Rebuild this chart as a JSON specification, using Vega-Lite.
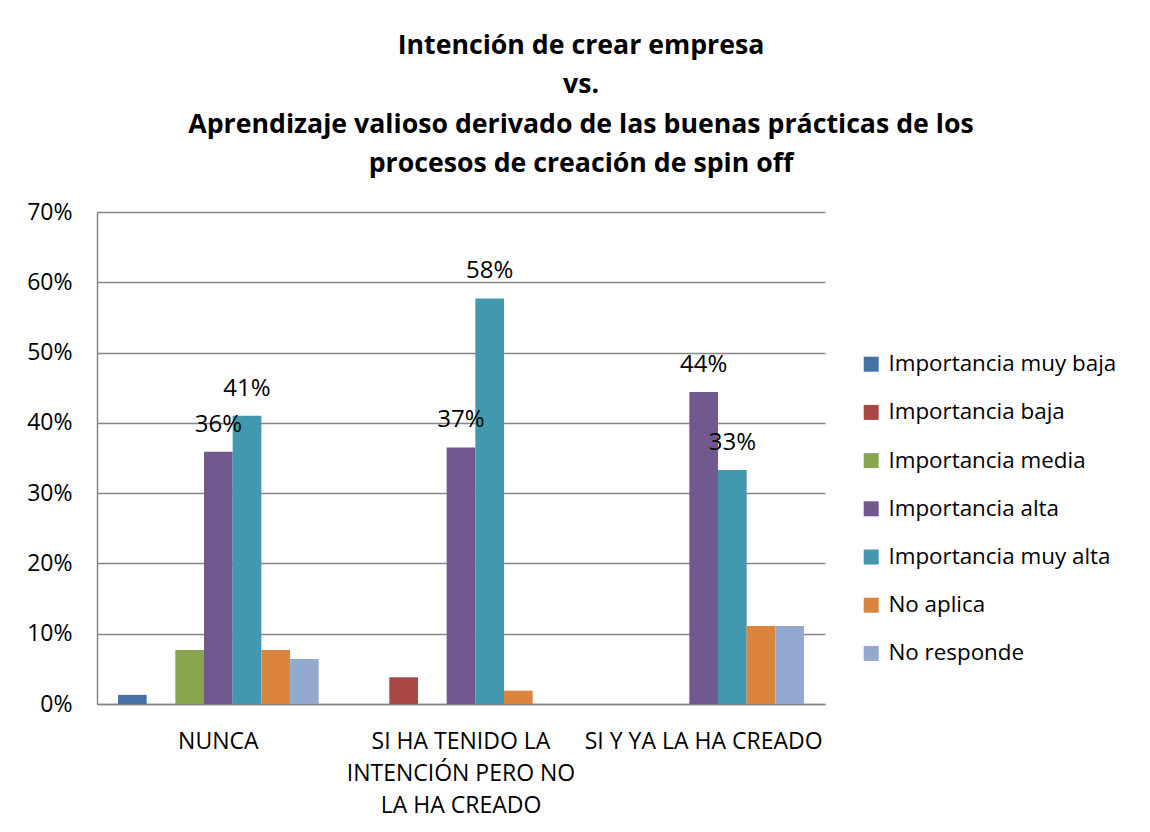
{
  "$schema": "https://vega.github.io/schema/vega-lite/v6.json",
  "autosize": {"type": "none"},
  "width": 728,
  "height": 492,
  "padding": {"left": 97, "top": 212, "right": 325, "bottom": 128},
  "background": "white",
  "config": {
    "font": "Open Sans",
    "view": {"stroke": null}
  },
  "title": {
    "text": ["Intención de crear empresa", "vs.", "Aprendizaje valioso derivado de las buenas prácticas de los", "procesos de creación de spin off"],
    "fontSize": 26.7,
    "fontWeight": "bold",
    "color": "#000000",
    "lineHeight": 39.5,
    "anchor": "middle",
    "frame": "group",
    "dx": 120,
    "offset": 23
  },
  "data": {
    "values": [
      {"cat": "NUNCA", "serie": "Importancia muy baja", "value": 0.013},
      {"cat": "NUNCA", "serie": "Importancia media", "value": 0.077},
      {"cat": "NUNCA", "serie": "Importancia alta", "value": 0.359},
      {"cat": "NUNCA", "serie": "Importancia muy alta", "value": 0.41},
      {"cat": "NUNCA", "serie": "No aplica", "value": 0.077},
      {"cat": "NUNCA", "serie": "No responde", "value": 0.064},
      {"cat": "SI HA TENIDO LA INTENCIÓN PERO NO LA HA CREADO", "serie": "Importancia baja", "value": 0.038},
      {"cat": "SI HA TENIDO LA INTENCIÓN PERO NO LA HA CREADO", "serie": "Importancia alta", "value": 0.365},
      {"cat": "SI HA TENIDO LA INTENCIÓN PERO NO LA HA CREADO", "serie": "Importancia muy alta", "value": 0.577},
      {"cat": "SI HA TENIDO LA INTENCIÓN PERO NO LA HA CREADO", "serie": "No aplica", "value": 0.019},
      {"cat": "SI Y YA LA HA CREADO", "serie": "Importancia alta", "value": 0.444},
      {"cat": "SI Y YA LA HA CREADO", "serie": "Importancia muy alta", "value": 0.333},
      {"cat": "SI Y YA LA HA CREADO", "serie": "No aplica", "value": 0.111},
      {"cat": "SI Y YA LA HA CREADO", "serie": "No responde", "value": 0.111}
    ]
  },
  "encoding": {
    "x": {
      "field": "cat",
      "type": "nominal",
      "sort": null,
      "scale": {"paddingInner": 0.173, "paddingOuter": 0.0865},
      "axis": {
        "title": null,
        "labelAngle": 0,
        "labelFontSize": 23,
        "labelColor": "#000000",
        "labelLineHeight": 32,
        "labelPadding": 37,
        "labelBaseline": "middle",
        "labelLimit": 400,
        "ticks": false,
        "domainColor": "#868686",
        "domainWidth": 1.5,
        "labelExpr": "datum.label == 'SI HA TENIDO LA INTENCIÓN PERO NO LA HA CREADO' ? ['SI HA TENIDO LA', 'INTENCIÓN PERO NO', 'LA HA CREADO'] : datum.label"
      }
    },
    "xOffset": {
      "field": "serie",
      "type": "nominal",
      "scale": {
        "domain": ["Importancia muy baja", "Importancia baja", "Importancia media", "Importancia alta", "Importancia muy alta", "No aplica", "No responde"],
        "paddingInner": 0,
        "paddingOuter": 0
      }
    },
    "y": {
      "field": "value",
      "type": "quantitative",
      "scale": {"domain": [0, 0.7]},
      "axis": {
        "title": null,
        "format": ".0%",
        "values": [0, 0.1, 0.2, 0.3, 0.4, 0.5, 0.6, 0.7],
        "labelFontSize": 23,
        "labelColor": "#000000",
        "labelPadding": 25,
        "ticks": false,
        "grid": true,
        "gridColor": "#868686",
        "gridWidth": 1.5,
        "domainColor": "#868686",
        "domainWidth": 1.5
      }
    }
  },
  "layer": [
    {
      "mark": {"type": "bar"},
      "encoding": {
        "color": {
          "field": "serie",
          "type": "nominal",
          "scale": {
            "domain": ["Importancia muy baja", "Importancia baja", "Importancia media", "Importancia alta", "Importancia muy alta", "No aplica", "No responde"],
            "range": ["#4572A7", "#AA4643", "#89A54E", "#71588F", "#4198AF", "#DB843D", "#93A9CF"]
          },
          "legend": {
            "title": null,
            "orient": "none",
            "legendX": 763,
            "legendY": 141,
            "symbolType": "square",
            "symbolSize": 225,
            "symbolStrokeWidth": 0,
            "labelFontSize": 22.4,
            "labelColor": "#000000",
            "labelOffset": 6,
            "rowPadding": 25.2,
            "labelLimit": 400
          }
        }
      }
    },
    {
      "transform": [{"filter": "datum.serie == 'Importancia alta' || datum.serie == 'Importancia muy alta'"}],
      "mark": {"type": "text", "fontSize": 24, "baseline": "middle", "dy": -27, "color": "#000000"},
      "encoding": {
        "text": {"field": "value", "type": "quantitative", "format": ".0%"}
      }
    }
  ]
}
